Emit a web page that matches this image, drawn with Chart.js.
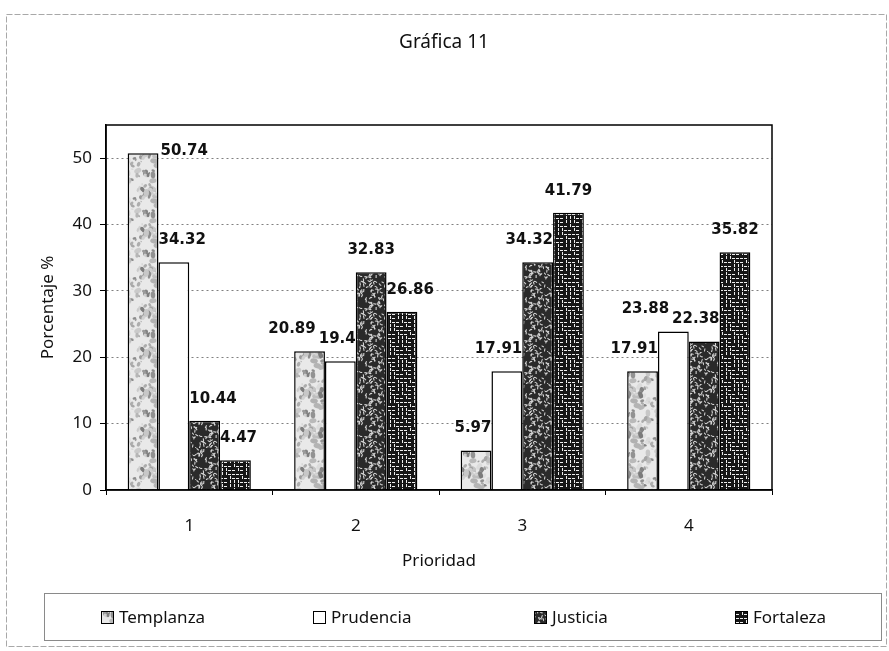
<!DOCTYPE html>
<html>
<head>
<meta charset="utf-8">
<title>Gráfica 11</title>
<script src="https://cdn.jsdelivr.net/npm/chart.js@4.4.1/dist/chart.umd.min.js"></script>
<style>
  html, body { margin: 0; padding: 0; background: #fff; }
  #wrap { width: 889px; height: 651px; }
</style>
</head>
<body>
<div id="wrap"><canvas id="chart" width="889" height="651"></canvas></div>
<script>
// data //
const categories = ['1', '2', '3', '4'];
const seriesNames = ['Templanza', 'Prudencia', 'Justicia', 'Fortaleza'];
const templanza = [50.74, 20.89, 5.97, 17.91];
const prudencia = [34.32, 19.4, 17.91, 23.88];
const justicia = [10.44, 32.83, 34.32, 22.38];
const fortaleza = [4.47, 26.86, 41.79, 35.82];
const yTicks = [0, 10, 20, 30, 40, 50];

const comic = '"Noto Sans", sans-serif';
const boldFont = '"DejaVu Sans", sans-serif';

// patterns //
function hash(n) {
	const s = Math.sin(n * 127.1 + 311.7) * 43758.5453;
	return s - Math.floor(s);
}

function makePattern(size, paint) {
	const c = document.createElement('canvas');
	c.width = size;
	c.height = size;
	const g = c.getContext('2d');
	paint(g, size);
	return document.getElementById('chart').getContext('2d').createPattern(c, 'repeat');
}

const fills = [
	// light mottled
	makePattern(40, function (g, s) {
		g.fillStyle = '#e9e9e9';
		g.fillRect(0, 0, s, s);
		for (let i = 0; i < 70; i++) {
			const x = hash(i) * s, y = hash(i + 61) * s, r = 0.6 + hash(i + 122) * 2.2;
			const shade = 120 + Math.floor(hash(i + 183) * 110);
			g.fillStyle = 'rgb(' + shade + ',' + shade + ',' + shade + ')';
			for (let dx = -s; dx <= s; dx += s) {
				for (let dy = -s; dy <= s; dy += s) {
					g.beginPath();
					g.ellipse(x + dx, y + dy, r * 1.5, r, hash(i + 244) * 3, 0, Math.PI * 2);
					g.fill();
				}
			}
		}
	}),
	'#ffffff',
	// dark speckle
	makePattern(32, function (g, s) {
		g.fillStyle = '#2a2a2a';
		g.fillRect(0, 0, s, s);
		g.strokeStyle = '#d4d4d4';
		g.lineWidth = 1.1;
		for (let i = 0; i < 80; i++) {
			const x = hash(i + 400) * s, y = hash(i + 500) * s, a = hash(i + 600) * 6.28;
			g.beginPath();
			g.moveTo(x, y);
			g.quadraticCurveTo(x + Math.cos(a) * 2, y + Math.sin(a + 1) * 2, x + Math.cos(a) * 3, y + Math.sin(a) * 3);
			g.stroke();
		}
	}),
	// maze / brick
	makePattern(24, function (g, s) {
		g.fillStyle = '#161616';
		g.fillRect(0, 0, s, s);
		g.fillStyle = '#eeeeee';
		for (let r = 0; r < s / 4; r++) {
			for (let c = 0; c < s / 4; c++) {
				if (hash(r * 13 + c + 800) > 0.45) g.fillRect(c * 4, r * 4 + 2, 3, 1);
				else g.fillRect(c * 4 + 2, r * 4, 1, 3);
			}
		}
	})
];

const seriesValues = [templanza, prudencia, justicia, fortaleza];

// place value labels above bars, nudged away from taller neighbours
function labelBoxes(chart, ctx) {
	const area = chart.chartArea;
	const n = chart.data.datasets.length;
	const out = [];
	categories.forEach(function (c, i) {
		const bars = [];
		for (let d = 0; d < n; d++) bars.push(chart.getDatasetMeta(d).data[i]);
		const boxes = bars.map(function (bar, d) {
			const txt = String(chart.data.datasets[d].data[i]);
			const w = ctx.measureText(txt).width;
			let y = bar.y - 22;
			let left = bar.x - w / 2;
			const bottom = y + 8;
			const L = bars[d - 1], R = bars[d + 1];
			if (y - 9 < area.top) {
				left = bar.x + bar.width / 2 + 2;
				y = bar.y - 2;
			} else if (R && R.y < bottom) {
				left = bar.x + bar.width / 2 - w;
			} else if (L && L.y < bottom) {
				left = bar.x - bar.width / 2;
			}
			return { txt: txt, left: left, w: w, y: y };
		});
		// resolve overlaps right to left
		for (let d = boxes.length - 2; d >= 0; d--) {
			const a = boxes[d], b = boxes[d + 1];
			if (Math.abs(a.y - b.y) < 17 && a.left + a.w + 3 > b.left) {
				a.left = b.left - a.w - 3;
			}
		}
		boxes.forEach(function (b) { out.push(b); });
	});
	return out;
}

// outer border, title, plot frame, value labels, legend
const decor = {
	id: 'decor',
	beforeDraw(chart) {
		const ctx = chart.ctx;
		ctx.save();
		ctx.fillStyle = '#fff';
		ctx.fillRect(0, 0, chart.width, chart.height);
		ctx.strokeStyle = '#a8a8a8';
		ctx.lineWidth = 1;
		ctx.setLineDash([6, 2]);
		ctx.strokeRect(6.5, 14.5, 880, 632);
		ctx.setLineDash([]);
		ctx.fillStyle = '#111';
		ctx.font = '19px ' + comic;
		ctx.textAlign = 'center';
		ctx.textBaseline = 'middle';
		ctx.fillText('Gráfica 11', 444, 43);
		ctx.restore();
	},
	afterDatasetsDraw(chart) {
		const ctx = chart.ctx;
		const area = chart.chartArea;
		ctx.save();
		ctx.strokeStyle = '#000';
		ctx.lineWidth = 1.5;
		ctx.strokeRect(area.left, area.top, area.right - area.left, area.bottom - area.top);

		ctx.fillStyle = '#111';
		ctx.font = 'bold 15px ' + boldFont;
		ctx.textBaseline = 'middle';
		ctx.textAlign = 'left';
		labelBoxes(chart, ctx).forEach(function (b) {
			ctx.fillText(b.txt, b.left, b.y);
		});

		// legend
		const lx = 44, ly = 593, lw = 837, lh = 47;
		ctx.strokeStyle = '#8a8a8a';
		ctx.lineWidth = 1;
		ctx.strokeRect(lx + 0.5, ly + 0.5, lw, lh);
		ctx.font = '17px ' + comic;
		chart.data.datasets.forEach(function (ds, di) {
			const w = ctx.measureText(ds.label).width + 18;
			const cx = lx + lw * (di + 0.5) / 4 + 4;
			const sx = Math.round(cx - w / 2);
			ctx.fillStyle = ds.backgroundColor;
			ctx.fillRect(sx, 611, 12, 12);
			ctx.strokeStyle = '#000';
			ctx.strokeRect(sx + 0.5, 611.5, 12, 12);
			ctx.fillStyle = '#111';
			ctx.fillText(ds.label, sx + 18, 618);
		});
		ctx.restore();
	}
};

const chart = new Chart(document.getElementById('chart'), {
	type: 'bar',
	data: {
		labels: categories,
		datasets: seriesNames.map(function (name, i) {
			return {
				label: name,
				data: seriesValues[i],
				backgroundColor: fills[i],
				borderColor: '#000',
				borderWidth: 1.5,
				categoryPercentage: 0.74,
				barPercentage: 1.0
			};
		})
	},
	options: {
		responsive: false,
		animation: false,
		layout: { padding: { left: 30, top: 125, right: 117, bottom: 66 } },
		plugins: {
			legend: { display: false },
			title: { display: false },
			tooltip: { enabled: false }
		},
		scales: {
			x: {
				grid: { offset: true, drawOnChartArea: false, tickLength: 5, tickColor: '#000', tickWidth: 1 },
				border: { color: '#000', width: 1.5 },
				ticks: { color: '#111', font: { family: comic, size: 17 }, padding: 21 },
				title: { display: true, text: 'Prioridad', color: '#111', font: { family: comic, size: 17 }, padding: { top: 0, bottom: 14 } },
				afterFit: function (axis) { axis.height = 95; }
			},
			y: {
				min: 0,
				max: 55,
				afterBuildTicks: function (axis) { axis.ticks = yTicks.map(function (v) { return { value: v }; }); },
				grid: {
					color: function (ctx) { return ctx.tick && ctx.tick.value === 0 ? 'rgba(0,0,0,0)' : '#808080'; },
					tickColor: '#000',
					tickLength: 6,
					tickWidth: 1,
					tickBorderDash: []
				},
				border: { color: '#000', width: 1.5, dash: [2, 3] },
				ticks: { color: '#111', font: { family: comic, size: 17 }, padding: 8 },
				title: { display: true, text: 'Porcentaje %', color: '#111', font: { family: comic, size: 17 }, padding: { top: 8 } },
				afterFit: function (axis) { axis.width = 76; }
			}
		}
	},
	plugins: [decor]
});
</script>
</body>
</html>
